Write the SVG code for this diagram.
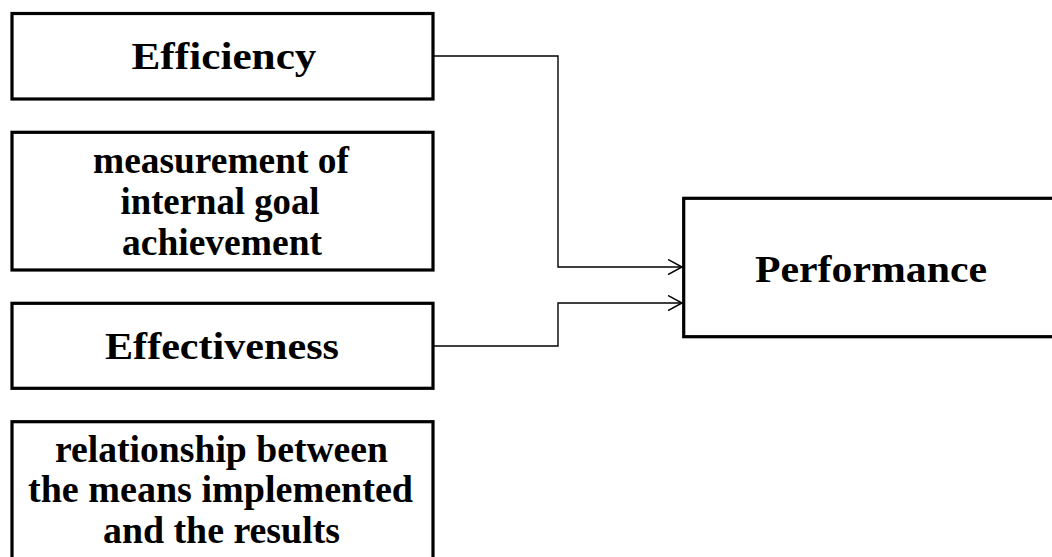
<svg xmlns="http://www.w3.org/2000/svg" width="1052" height="557" viewBox="0 0 1052 557">
  <style>
    .box { fill: #fff; stroke: #000; stroke-width: 3.2; }
    .lbl { font-family: "Liberation Serif", "Times New Roman", serif; font-weight: bold; fill: #000; text-anchor: middle; font-size: 38px; }
    .wire { fill: none; stroke: #000; stroke-width: 1.4; }
  </style>
  <defs>
    <marker id="arrow" markerUnits="userSpaceOnUse" markerWidth="18" markerHeight="18" refX="14" refY="8" orient="auto">
      <path d="M0,0.5 L14,8 L0,15.5" fill="none" stroke="#000" stroke-width="1.5"/>
    </marker>
  </defs>
  <rect width="1052" height="557" fill="#fff"/>

  <!-- elbow connectors into the Performance box -->
  <g id="connectors">
    <path class="wire" d="M433,56 H558 V267 H682" marker-end="url(#arrow)"/>
    <path class="wire" d="M433,346 H558 V303 H682" marker-end="url(#arrow)"/>
  </g>

  <g id="efficiency">
    <rect class="box" x="12" y="13.5" width="421" height="85.5"/>
    <text class="lbl" x="224" y="69" textLength="185" lengthAdjust="spacingAndGlyphs">Efficiency</text>
  </g>

  <g id="efficiency-desc">
    <rect class="box" x="12" y="132.3" width="421" height="137.7"/>
    <text class="lbl" x="221" y="173" textLength="256" lengthAdjust="spacingAndGlyphs">measurement of</text>
    <text class="lbl" x="220" y="214" textLength="199" lengthAdjust="spacingAndGlyphs">internal goal</text>
    <text class="lbl" x="222" y="255" textLength="200" lengthAdjust="spacingAndGlyphs">achievement</text>
  </g>

  <g id="effectiveness">
    <rect class="box" x="12" y="303.3" width="421" height="85"/>
    <text class="lbl" x="222" y="359" textLength="234" lengthAdjust="spacingAndGlyphs">Effectiveness</text>
  </g>

  <g id="effectiveness-desc">
    <rect class="box" x="12" y="421.7" width="421" height="150"/>
    <text class="lbl" x="221.5" y="462" textLength="333" lengthAdjust="spacingAndGlyphs">relationship between</text>
    <text class="lbl" x="220.5" y="502" textLength="385" lengthAdjust="spacingAndGlyphs">the means implemented</text>
    <text class="lbl" x="221.5" y="543" textLength="237" lengthAdjust="spacingAndGlyphs">and the results</text>
  </g>

  <g id="performance">
    <rect class="box" x="683.7" y="198.3" width="380" height="138.4"/>
    <text class="lbl" x="871" y="282" textLength="232" lengthAdjust="spacingAndGlyphs">Performance</text>
  </g>
</svg>
